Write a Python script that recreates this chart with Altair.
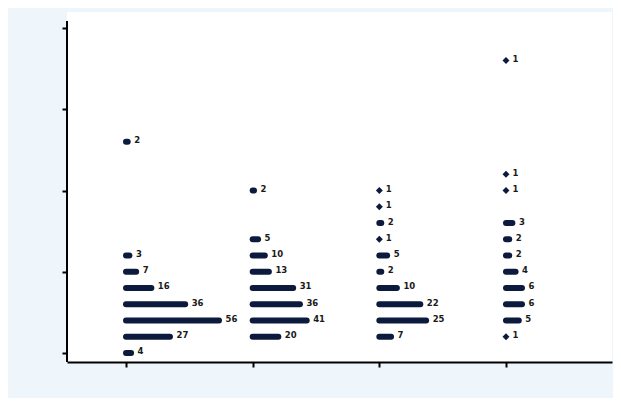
import altair as alt
import pandas as pd

# ---- data ----
groups = [1, 2, 3, 4]
g1_levels = [0, 1, 2, 3, 4, 5, 6, 13]
g1_counts = [4, 27, 56, 36, 16, 7, 3, 2]
g2_levels = [1, 2, 3, 4, 5, 6, 7, 10]
g2_counts = [20, 41, 36, 31, 13, 10, 5, 2]
g3_levels = [1, 2, 3, 4, 5, 6, 7, 8, 9, 10]
g3_counts = [7, 25, 22, 10, 2, 5, 1, 2, 1, 1]
g4_levels = [1, 2, 3, 4, 5, 6, 7, 8, 10, 11, 18]
g4_counts = [1, 5, 6, 6, 4, 2, 2, 3, 1, 1, 1]
y_ticks = [0, 5, 10, 15, 20]

# ---- style ----
NAVY = "#0b1a3d"
PLOT_W, PLOT_H = 545, 350
X_DOMAIN = [0.534, 4.837]
Y_DOMAIN = [-0.554, 20.985]
Y_AXIS_TOP = 20.43
dot_spacing_px = {1: 1.69, 2: 1.35, 3: 1.95, 4: 3.2}  # horizontal dot spacing per group
px_per_unit = PLOT_W / (X_DOMAIN[1] - X_DOMAIN[0])

levels = [g1_levels, g2_levels, g3_levels, g4_levels]
counts = [g1_counts, g2_counts, g3_counts, g4_counts]
rows = []
for g, lv, ct in zip(groups, levels, counts):
    for y, n in zip(lv, ct):
        rows.append({
            "x": g,
            "x_end": g + (n - 1) * dot_spacing_px[g] / px_per_unit,
            "y": y,
            "count": n,
            "label": str(n),
        })
df = pd.DataFrame(rows)

xs = alt.Scale(domain=X_DOMAIN, nice=False, zero=False)
ys = alt.Scale(domain=Y_DOMAIN, nice=False, zero=False)

x_axis = alt.Axis(values=groups, labels=False, title="", grid=False, tickSize=5,
                  tickWidth=2, tickColor="black", domainColor="black", domainWidth=2)
y_axis = alt.Axis(values=y_ticks, labels=False, title="", grid=False, tickSize=5,
                  tickWidth=2, tickColor="black", domain=False)

base = alt.Chart(df)

bars = base.transform_filter("datum.count > 1").mark_rule(
    strokeWidth=6, strokeCap="round", color=NAVY
).encode(
    x=alt.X("x:Q", scale=xs, axis=x_axis),
    x2="x_end:Q",
    y=alt.Y("y:Q", scale=ys, axis=y_axis),
)

dots = base.transform_filter("datum.count == 1").mark_point(
    shape="diamond", filled=True, size=48, color=NAVY, opacity=1
).encode(
    x=alt.X("x:Q", scale=xs, axis=x_axis),
    y=alt.Y("y:Q", scale=ys, axis=y_axis),
)

labels = base.mark_text(
    align="left", baseline="middle", dx=6.5, dy=-1.5, fontSize=8.5,
    fontWeight="bold", font="DejaVu Sans", color="#1a1a1a"
).encode(
    x=alt.X("x_end:Q", scale=xs, axis=x_axis),
    y=alt.Y("y:Q", scale=ys, axis=y_axis),
    text="label:N",
)

yline = alt.Chart(pd.DataFrame({"top": [Y_AXIS_TOP], "bottom": [Y_DOMAIN[0]]})).mark_rule(
    color="black", strokeWidth=2
).encode(
    x=alt.value(0),
    y=alt.Y("top:Q", scale=ys, axis=y_axis),
    y2="bottom:Q",
)

chart = alt.layer(bars, dots, labels, yline).properties(
    width=PLOT_W, height=PLOT_H,
    background="#eef6fb",
    padding={"left": 59, "top": 4, "right": 1, "bottom": 36},
    autosize=alt.AutoSizeParams(type="none"),
).configure_view(fill="white", strokeWidth=0)

chart.save("out.html", embed_options={"renderer": "svg", "actions": False})
